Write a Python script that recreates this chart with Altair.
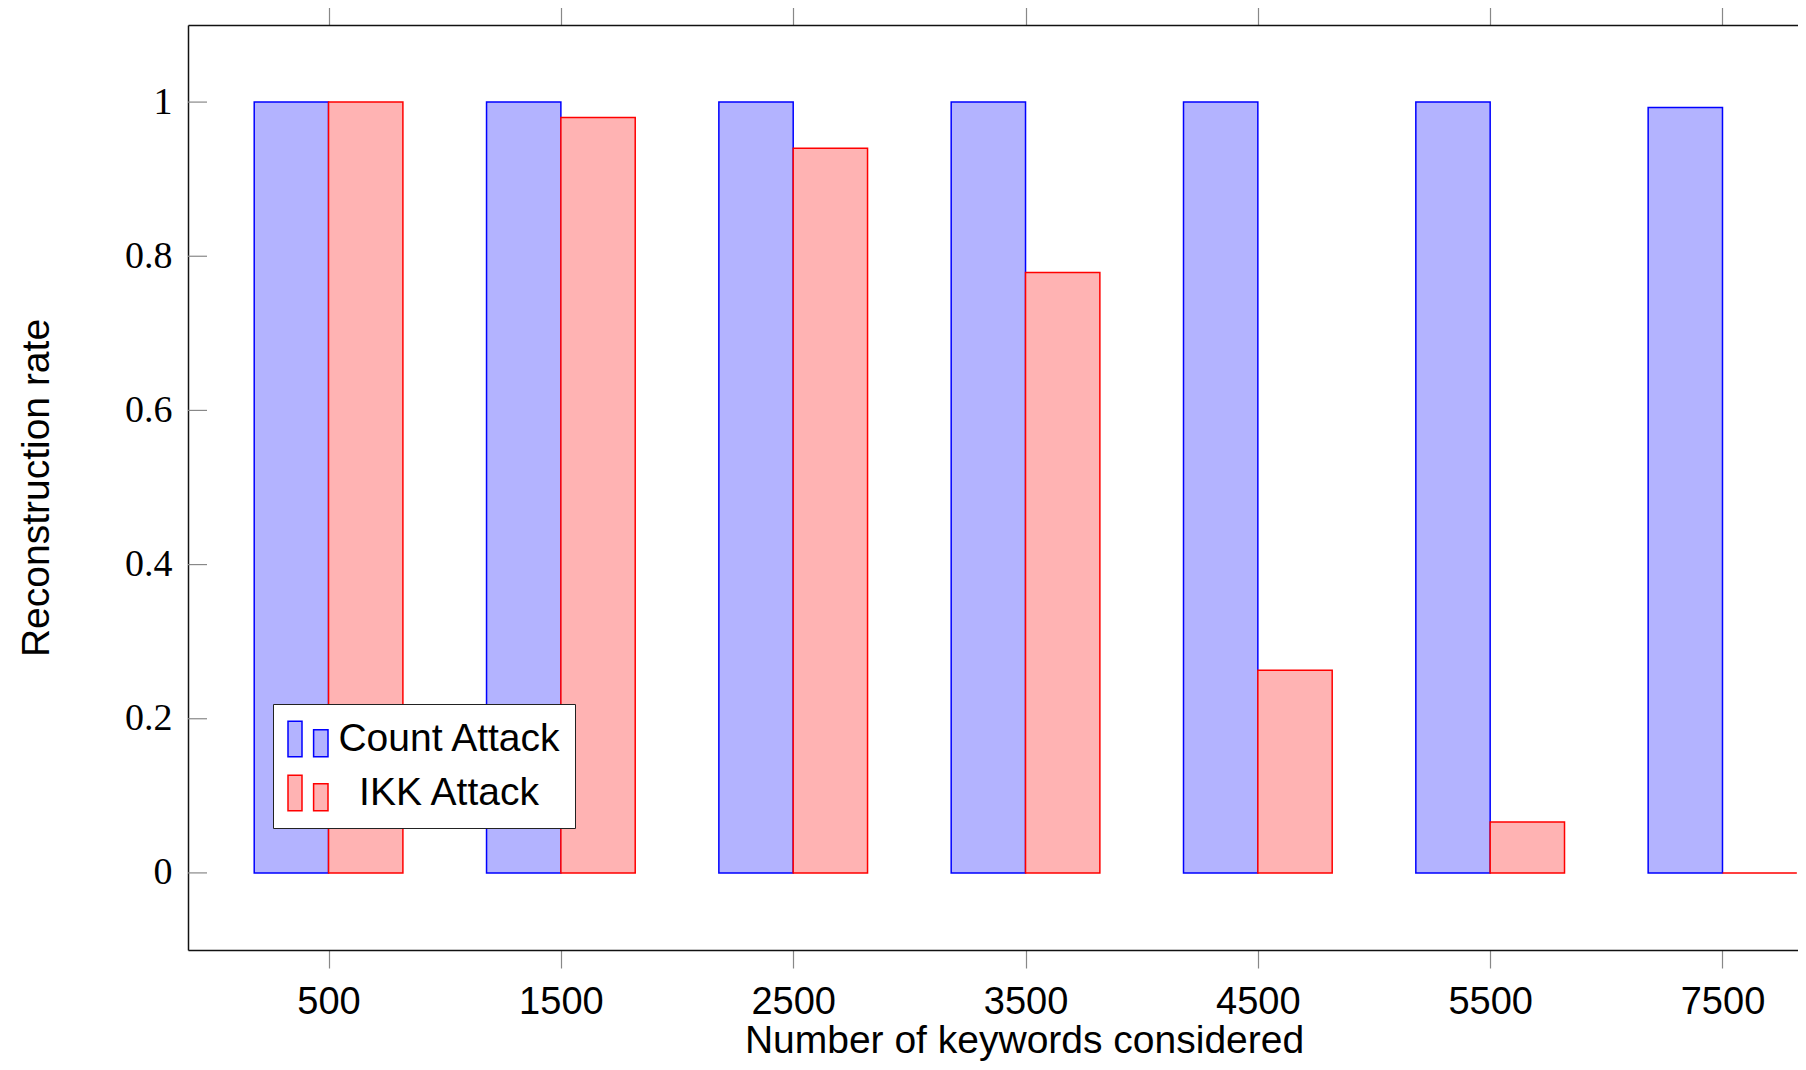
import json
import altair as alt
import pandas as pd

# ---- data ----
keywords = ["500", "1500", "2500", "3500", "4500", "5500", "7500"]
count_attack = [1.0, 1.0, 1.0, 1.0, 1.0, 1.0, 0.993]
ikk_attack = [1.0, 0.98, 0.94, 0.779, 0.263, 0.066, 0.0]
series_names = ["Count Attack", "IKK Attack"]
fill_colors = ["#b3b3ff", "#ffb3b3"]
stroke_colors = ["#0000ff", "#ff0000"]
y_ticks = [0, 0.2, 0.4, 0.6, 0.8, 1.0]
bar_w = 0.32

rows = []
for i, k in enumerate(keywords):
    rows.append(dict(keywords=k, idx=i, series=series_names[0], value=count_attack[i], x0=i - bar_w, x1=i))
for i, k in enumerate(keywords):
    rows.append(dict(keywords=k, idx=i, series=series_names[1], value=ikk_attack[i], x0=i, x1=i + bar_w))
df = pd.DataFrame(rows)
ticks_df = pd.DataFrame({"value": y_ticks})

SANS = "Liberation Sans"
SERIF = "Liberation Serif"

xscale = alt.Scale(domain=[-0.605, 6.325], nice=False, zero=False)
yscale = alt.Scale(domain=[-0.1, 1.1], nice=False, zero=False)
label_expr = json.dumps(keywords) + "[datum.value]"

yaxis = alt.Axis(
    values=y_ticks, format="~g", ticks=False, grid=False,
    domainColor="#111", domainWidth=1.5,
    labelFont=SERIF, labelFontSize=38, labelPadding=16, labelColor="black",
    title="Reconstruction rate", titleFont=SANS, titleFontSize=39,
    titleFontWeight="normal", titleColor="black", titleAngle=270,
    titleX=-152, titleY=462.5, titleAlign="center", titleBaseline="middle",
)

legend_path = ("M-1,-0.89 L-0.3,-0.89 L-0.3,0.89 L-1,0.89 Z "
               "M0.28,-0.46 L1,-0.46 L1,0.89 L0.28,0.89 Z")
legend = alt.Legend(
    orient="none", legendX=85, legendY=679, title=None,
    symbolType=legend_path, symbolSize=1600, symbolStrokeWidth=1.5, symbolOpacity=1,
    labelFont=SANS, labelFontSize=39, labelColor="black", labelAlign="center",
    labelOffset=120, labelLimit=500, padding=14, rowPadding=12,
    fillColor="white", strokeColor="#222", cornerRadius=0,
)

bars = alt.Chart(df).mark_bar(strokeWidth=1.5, opacity=1).encode(
    x=alt.X("x0:Q", scale=xscale, axis=alt.Axis(
        orient="bottom", values=list(range(len(keywords))), labelExpr=label_expr,
        tickSize=18, tickColor="#888", tickWidth=1.2, grid=False,
        domainColor="#111", domainWidth=1.5,
        labelFont=SANS, labelFontSize=38, labelPadding=15, labelColor="black",
        title="Number of keywords considered", titleFont=SANS, titleFontSize=39,
        titleFontWeight="normal", titleColor="black",
        titleX=836, titleY=102, titleAlign="center", titleBaseline="alphabetic",
    )),
    x2="x1:Q",
    y=alt.Y("value:Q", scale=yscale, axis=yaxis),
    y2=alt.datum(0),
    fill=alt.Fill("series:N", scale=alt.Scale(domain=series_names, range=fill_colors), legend=legend),
    stroke=alt.Stroke("series:N", scale=alt.Scale(domain=series_names, range=stroke_colors), legend=legend),
)

ytick_rules = alt.Chart(ticks_df).mark_rule(color="#888", strokeWidth=1.2).encode(
    y=alt.Y("value:Q", scale=yscale, axis=yaxis),
    x=alt.value(0),
    x2=alt.value(19),
)

top_axis = alt.Chart(df).mark_point(opacity=0).encode(
    x=alt.X("idx:Q", scale=xscale, axis=alt.Axis(
        orient="top", values=list(range(len(keywords))), labels=False,
        tickSize=18, tickColor="#888", tickWidth=1.2, grid=False,
        domainColor="#111", domainWidth=1.5, title=None,
    )),
    y=alt.Y("value:Q", scale=yscale, axis=yaxis),
)

chart = alt.layer(bars, ytick_rules, top_axis).resolve_axis(x="independent").properties(
    width=1610, height=925,
    padding={"left": 180, "top": 17, "right": 0, "bottom": 112},
    autosize=alt.AutoSizeParams(type="none"),
    background="white",
).configure_view(strokeWidth=0)

chart.save("out.html", embed_options={"renderer": "svg", "actions": False})
